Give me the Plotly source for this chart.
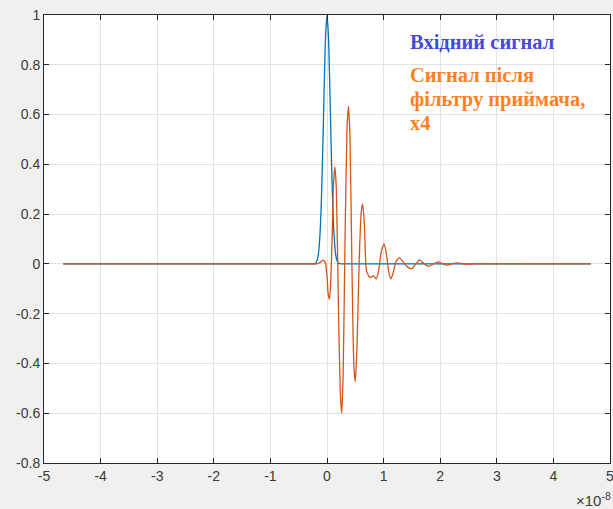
import plotly.graph_objects as go

# time in units of 1e-8 s
t_in = [-4.66, -0.30, -0.25, -0.20, -0.175, -0.15, -0.125, -0.10, -0.075, -0.05, -0.025, 0.0,
        0.025, 0.05, 0.075, 0.10, 0.125, 0.15, 0.175, 0.20, 0.25, 0.30, 4.66]
v_in = [0.0, 0.0, 0.0, 0.004, 0.014, 0.044, 0.114, 0.25, 0.458, 0.707, 0.917, 1.0,
        0.917, 0.707, 0.458, 0.25, 0.114, 0.044, 0.014, 0.004, 0.0, 0.0, 0.0]

t_out = [-4.66, -0.30, -0.18, -0.12, -0.07, -0.03, 0.0, 0.02, 0.04, 0.06, 0.09, 0.115, 0.14,
         0.165, 0.20, 0.235, 0.26, 0.285, 0.32, 0.355, 0.38, 0.405, 0.44, 0.475, 0.50, 0.53,
         0.57, 0.605, 0.63, 0.66, 0.70, 0.76, 0.82, 0.87, 0.91, 0.96, 1.01, 1.05, 1.09, 1.13,
         1.17, 1.22, 1.28, 1.34, 1.42, 1.50, 1.57, 1.63, 1.70, 1.79, 1.88, 1.97, 2.05, 2.12,
         2.20, 2.30, 2.45, 2.60, 4.66]
v_out = [0.0, 0.0, 0.0, 0.006, 0.015, 0.005, -0.05, -0.12, -0.142, -0.10, 0.10, 0.32, 0.39,
         0.30, -0.15, -0.52, -0.60, -0.45, 0.12, 0.55, 0.633, 0.52, 0.0, -0.41, -0.474, -0.33,
         0.02, 0.21, 0.24, 0.16, -0.03, -0.054, -0.048, -0.06, -0.03, 0.05, 0.08, 0.04, -0.03, -0.06,
         -0.035, 0.01, 0.024, 0.01, -0.012, -0.019, 0.0, 0.016, 0.004, -0.01, 0.0, 0.008, 0.0, -0.005,
         0.0, 0.004, -0.002, 0.0, 0.0]

x_ticks = [-5, -4, -3, -2, -1, 0, 1, 2, 3, 4, 5]
y_ticks = [-0.8, -0.6, -0.4, -0.2, 0, 0.2, 0.4, 0.6, 0.8, 1]
y_tick_text = ["-0.8", "-0.6", "-0.4", "-0.2", "0", "0.2", "0.4", "0.6", "0.8", "1"]

label_in = "Вхідний сигнал"
label_out_lines = ["Сигнал після", "фільтру приймача,", "x4"]
label_out_y = [0.757, 0.661, 0.565]

fig = go.Figure()
fig.add_trace(go.Scatter(x=t_in, y=v_in, mode="lines", line=dict(color="#0072BD", width=1.3, shape="spline", smoothing=0.6)))
fig.add_trace(go.Scatter(x=t_out, y=v_out, mode="lines", line=dict(color="#D95319", width=1.3, shape="spline", smoothing=0.6)))

axis_common = dict(
    showline=True, linecolor="#262626", linewidth=1, mirror="ticks",
    ticks="inside", ticklen=5, tickcolor="#262626", automargin=False,
    ticklabeloverflow="allow",
    showgrid=True, gridcolor="#e3e3e3", gridwidth=1, zeroline=False,
    tickfont=dict(family="Liberation Sans", size=14, color="#3a3a3a"),
)
fig.update_xaxes(range=[-5, 5], tickvals=x_ticks, ticktext=[str(v) for v in x_ticks], **axis_common)
fig.update_yaxes(range=[-0.8, 1], tickvals=y_ticks, ticktext=y_tick_text, **axis_common)

serif_bold = dict(family="Liberation Serif", size=20.5, weight="bold")
fig.add_annotation(x=1.43, y=0.893, xref="x", yref="y", text=label_in, showarrow=False,
                   xanchor="left", yanchor="middle", align="left",
                   font=dict(color="#4848d8", **serif_bold))
for line_text, ly in zip(label_out_lines, label_out_y):
    fig.add_annotation(x=1.43, y=ly, xref="x", yref="y", text=line_text, showarrow=False,
                       xanchor="left", yanchor="middle", align="left",
                       font=dict(color="#ff7f27", **serif_bold))
fig.add_annotation(x=1.0, y=-0.055, xref="paper", yref="paper", text="×10<sup>-8</sup>", showarrow=False,
                   xanchor="right", yanchor="top", xshift=3,
                   font=dict(family="Liberation Sans", size=15, color="#3a3a3a"))

fig.update_layout(
    width=613, height=509, showlegend=False,
    paper_bgcolor="#f0f0f0", plot_bgcolor="#ffffff",
    margin=dict(l=44, r=3, t=15, b=46),
)
fig.write_html("out.html", config={"displayModeBar": False},
               post_script="document.body.style.margin='0';document.body.style.background='#f0f0f0';document.body.style.overflow='hidden';")
